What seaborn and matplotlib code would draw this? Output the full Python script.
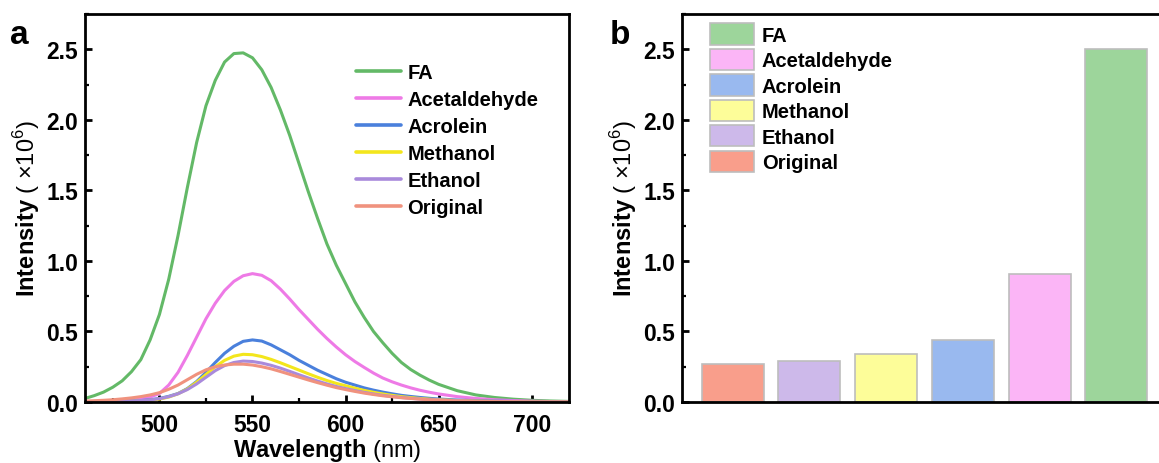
import numpy as np
import pandas as pd
import matplotlib
matplotlib.use("Agg")
import matplotlib.pyplot as plt
import seaborn as sns
from matplotlib.ticker import MultipleLocator, AutoMinorLocator
from matplotlib.patches import Patch

# ---------------- data ----------------
wavelength = [460, 465, 470, 475, 480, 485, 490, 495, 500, 505, 510, 515, 520, 525, 530, 535,
              540, 545, 550, 555, 560, 565, 570, 575, 580, 585, 590, 595, 600, 605, 610, 615,
              620, 625, 630, 635, 640, 645, 650, 660, 670, 680, 690, 700, 710, 720]

fa = [0.025, 0.045, 0.07, 0.105, 0.15, 0.215, 0.30, 0.44, 0.62, 0.87, 1.18, 1.52, 1.84, 2.10, 2.28, 2.41,
      2.47, 2.475, 2.44, 2.355, 2.23, 2.07, 1.89, 1.69, 1.49, 1.30, 1.12, 0.97, 0.84, 0.71, 0.60, 0.50,
      0.42, 0.345, 0.28, 0.23, 0.19, 0.155, 0.125, 0.08, 0.05, 0.032, 0.02, 0.012, 0.007, 0.004]
acetaldehyde = [0.0, 0.001, 0.003, 0.005, 0.008, 0.013, 0.02, 0.035, 0.06, 0.12, 0.21, 0.33, 0.46, 0.59, 0.70, 0.79,
                0.855, 0.895, 0.91, 0.898, 0.86, 0.80, 0.73, 0.655, 0.585, 0.515, 0.45, 0.39, 0.335, 0.287, 0.245, 0.205,
                0.17, 0.143, 0.12, 0.10, 0.083, 0.069, 0.057, 0.038, 0.025, 0.016, 0.01, 0.006, 0.003, 0.002]
acrolein = [0.0, 0.0, 0.001, 0.002, 0.004, 0.007, 0.01, 0.016, 0.025, 0.04, 0.06, 0.095, 0.145, 0.21, 0.28, 0.345,
            0.395, 0.43, 0.44, 0.432, 0.405, 0.37, 0.335, 0.295, 0.26, 0.225, 0.195, 0.165, 0.14, 0.12, 0.10, 0.084,
            0.07, 0.058, 0.047, 0.039, 0.032, 0.026, 0.021, 0.014, 0.009, 0.006, 0.004, 0.002, 0.001, 0.001]
methanol = [0.0, 0.0, 0.001, 0.002, 0.003, 0.005, 0.007, 0.012, 0.02, 0.035, 0.058, 0.092, 0.14, 0.195, 0.25, 0.295,
            0.325, 0.338, 0.335, 0.322, 0.302, 0.278, 0.252, 0.226, 0.20, 0.175, 0.152, 0.132, 0.115, 0.098, 0.082, 0.069,
            0.057, 0.047, 0.038, 0.031, 0.025, 0.02, 0.016, 0.01, 0.006, 0.004, 0.002, 0.001, 0.001, 0.0]
ethanol = [0.0, 0.001, 0.002, 0.003, 0.005, 0.007, 0.01, 0.015, 0.023, 0.037, 0.058, 0.088, 0.128, 0.175, 0.222, 0.258,
           0.28, 0.29, 0.287, 0.276, 0.26, 0.24, 0.217, 0.193, 0.17, 0.148, 0.128, 0.11, 0.095, 0.081, 0.068, 0.057,
           0.047, 0.039, 0.032, 0.026, 0.021, 0.017, 0.014, 0.009, 0.005, 0.003, 0.002, 0.001, 0.001, 0.0]
original = [0.006, 0.009, 0.012, 0.016, 0.022, 0.029, 0.038, 0.05, 0.066, 0.09, 0.12, 0.158, 0.196, 0.228, 0.25, 0.262,
            0.268, 0.268, 0.262, 0.25, 0.235, 0.216, 0.196, 0.176, 0.156, 0.137, 0.119, 0.102, 0.088, 0.075, 0.063, 0.053,
            0.044, 0.037, 0.03, 0.025, 0.02, 0.016, 0.013, 0.008, 0.005, 0.003, 0.002, 0.001, 0.001, 0.0]

samples = ["FA", "Acetaldehyde", "Acrolein", "Methanol", "Ethanol", "Original"]
spectra = [fa, acetaldehyde, acrolein, methanol, ethanol, original]

bar_labels = ["Original", "Ethanol", "Methanol", "Acrolein", "Acetaldehyde", "FA"]
bar_values = [0.27, 0.29, 0.34, 0.44, 0.91, 2.50]

line_colors = {"FA": "#63B967", "Acetaldehyde": "#EE7AE6", "Acrolein": "#4A80DC",
               "Methanol": "#F3E61C", "Ethanol": "#A98ADB", "Original": "#F0927E"}
bar_colors = {"FA": "#9DD59B", "Acetaldehyde": "#FBB5F6", "Acrolein": "#99B9EF",
              "Methanol": "#FDFD99", "Ethanol": "#CDB9EA", "Original": "#F99E8B"}

# ---------------- style ----------------
sns.set_style("ticks")
plt.rcParams["font.family"] = ["Liberation Sans", "DejaVu Sans"]
plt.rcParams["mathtext.fontset"] = "custom"
plt.rcParams["mathtext.rm"] = "Liberation Sans"
plt.rcParams["mathtext.bf"] = "Liberation Sans:bold"
for key in ["text.color", "axes.labelcolor", "xtick.color", "ytick.color", "axes.edgecolor"]:
    plt.rcParams[key] = "black"

df = pd.DataFrame({
    "wl": np.tile(wavelength, len(samples)),
    "I": np.concatenate(spectra),
    "sample": np.repeat(samples, len(wavelength)),
})

fig = plt.figure(figsize=(11.59, 4.64), dpi=100)
ax1 = fig.add_axes([0.0733, 0.1315, 0.4176, 0.836])
ax2 = fig.add_axes([0.5884, 0.1315, 0.4185, 0.836])

TICK_FS = 16.5
LABEL_FS = 17
LEG_FS = 14.5
YLABEL = r"$\mathbf{Intensity}$ ( $\times$10$^{6}$)"

# ---------------- panel a ----------------
sns.lineplot(data=df, x="wl", y="I", hue="sample", hue_order=samples, palette=line_colors,
             linewidth=2.2, estimator=None, ax=ax1)
ax1.set_xlim(460, 720)
ax1.set_ylim(0, 2.75)
ax1.xaxis.set_major_locator(MultipleLocator(50))
ax1.xaxis.set_minor_locator(AutoMinorLocator(2))
ax1.yaxis.set_major_locator(MultipleLocator(0.5))
ax1.yaxis.set_minor_locator(AutoMinorLocator(2))
ax1.set_xlabel(r"$\mathbf{Wavelength}$ (nm)", fontsize=LABEL_FS, labelpad=0)
ax1.set_ylabel(YLABEL, fontsize=LABEL_FS, labelpad=3)
h, l = ax1.get_legend_handles_labels()
leg1 = ax1.legend(h, l, loc="upper left", bbox_to_anchor=(0.56, 0.875), frameon=False,
                  prop={"weight": "bold", "size": LEG_FS}, handlelength=2.25, handletextpad=0.3,
                  labelspacing=0.4, borderpad=0, borderaxespad=0)
for ln in leg1.get_lines():
    ln.set_linewidth(2.6)

# ---------------- panel b ----------------
sns.barplot(x=bar_labels, y=bar_values, hue=bar_labels, palette=bar_colors, saturation=1,
            width=0.81, edgecolor="#BDBDBD", linewidth=1.2, legend=False, ax=ax2)
ax2.set_xlim(-0.66, 5.66)
ax2.set_ylim(0, 2.75)
ax2.set_xticks([])
ax2.set_xlabel("")
ax2.yaxis.set_major_locator(MultipleLocator(0.5))
ax2.yaxis.set_minor_locator(AutoMinorLocator(2))
ax2.set_ylabel(YLABEL, fontsize=LABEL_FS, labelpad=3)
handles = [Patch(facecolor=bar_colors[s], edgecolor="#BDBDBD", linewidth=1.2) for s in samples]
ax2.legend(handles, samples, loc="upper left", bbox_to_anchor=(0.057, 0.976), frameon=False,
           prop={"weight": "bold", "size": LEG_FS}, handlelength=2.2, handleheight=1.25,
           handletextpad=0.4, labelspacing=0.2, borderpad=0, borderaxespad=0)

for ax in (ax1, ax2):
    ax.tick_params(which="major", direction="in", length=5, width=2, labelsize=TICK_FS)
    ax.tick_params(which="minor", direction="in", length=3, width=1.6)
    ax.tick_params(axis="x", pad=8)
    ax.tick_params(axis="y", pad=5)
    for t in ax.get_xticklabels() + ax.get_yticklabels():
        t.set_fontweight("bold")
    for sp in ax.spines.values():
        sp.set_visible(True)
        sp.set_linewidth(2.0)
ax2.tick_params(axis="x", which="both", length=0)

fig.text(0.009, 0.905, "a", fontsize=24, fontweight="bold")
fig.text(0.526, 0.905, "b", fontsize=24, fontweight="bold")

fig.savefig("out.png", dpi=100)
